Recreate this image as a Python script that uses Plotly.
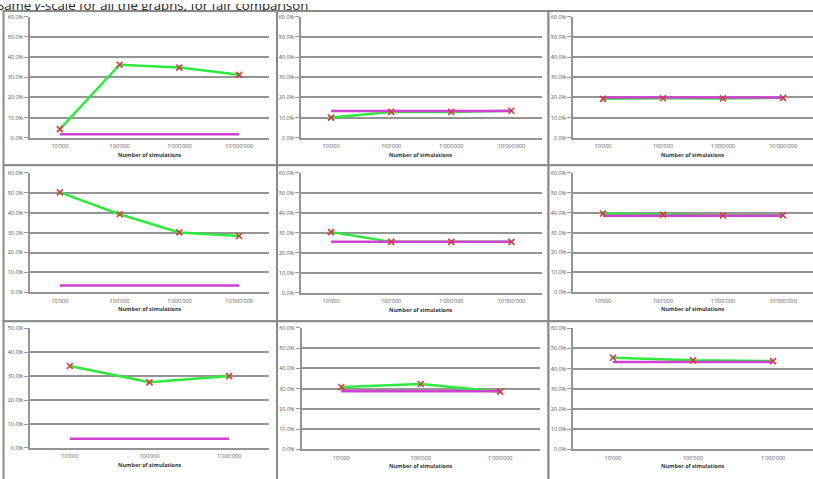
import plotly.graph_objects as go

W, H = 813, 479

title_text = "Same <i>y</i>-scale for all the graphs, for fair comparison"
x_title = "Number of simulations"

cats4 = ["10'000", "100'000", "1'000'000", "10'000'000"]
cats3 = ["10'000", "100'000", "1'000'000"]

# simulated estimate (green) per panel
p1_sim = [0.043, 0.362, 0.348, 0.312]
p2_sim = [0.100, 0.128, 0.128, 0.134]
p3_sim = [0.193, 0.196, 0.195, 0.198]
p4_sim = [0.502, 0.392, 0.301, 0.283]
p5_sim = [0.304, 0.255, 0.255, 0.255]
p6_sim = [0.396, 0.390, 0.386, 0.387]
p7_sim = [0.342, 0.274, 0.300]
p8_sim = [0.308, 0.323, 0.285]
p9_sim = [0.454, 0.441, 0.437]

# reference value (magenta) per panel
p_ref = [0.017, 0.133, 0.199, 0.035, 0.256, 0.384, 0.038, 0.287, 0.433]

y_max = [0.6, 0.6, 0.6, 0.6, 0.6, 0.6, 0.5, 0.6, 0.6]
y_ticks_60 = [0.0, 0.1, 0.2, 0.3, 0.4, 0.5, 0.6]
y_labels_60 = ["0.0%", "10.0%", "20.0%", "30.0%", "40.0%", "50.0%", "60.0%"]

sims = [p1_sim, p2_sim, p3_sim, p4_sim, p5_sim, p6_sim, p7_sim, p8_sim, p9_sim]
cats = [cats4] * 6 + [cats3] * 3

# plot-area pixel boxes (x0, x1, ytop, ybottom)
areas = [
    (30, 269, 13, 136), (301, 541.5, 13, 136), (573, 813, 13, 136),
    (30, 269, 171.7, 293.3), (301, 541.5, 171.7, 293.8), (573, 813, 171.7, 293.3),
    (30, 269, 329.7, 451.5), (301.5, 540, 329.3, 453), (573, 813, 329.7, 453),
]
# panel frame boxes (x0, x1, y0, y1) in pixels
frames_x = [(3.5, 277), (277, 548.5), (548.5, 817)]
frames_y = [(7, 164), (164, 322.7), (322.7, 484)]

GREEN = "#2eea3c"
MAGENTA = "#d23fd2"
MARK = "#cf3f3a"
GRID = "#959595"
TXT = "#555555"
FONT = "Open Sans"

fig = go.Figure()
layout = dict(width=W, height=H, margin=dict(l=0, r=0, t=0, b=0),
              paper_bgcolor="white", plot_bgcolor="rgba(0,0,0,0)",
              showlegend=False)
shapes = []
annotations = []

for fy in frames_y:
    for fx in frames_x:
        shapes.append(dict(type="rect", xref="paper", yref="paper", layer="below",
                           x0=fx[0] / W, x1=fx[1] / W, y0=1 - fy[1] / H, y1=1 - fy[0] / H,
                           line=dict(color="#8a8a8a", width=2), fillcolor="white"))

for i in range(9):
    n = i + 1
    xa = "x" if n == 1 else f"x{n}"
    ya = "y" if n == 1 else f"y{n}"
    x0, x1, yt, yb = areas[i]
    c = cats[i]
    ref_line = [p_ref[i]] * len(c)
    fig.add_trace(go.Scatter(x=c, y=sims[i], mode="lines", xaxis=xa, yaxis=ya,
                             line=dict(color=GREEN, width=2.5), hoverinfo="skip"))
    fig.add_trace(go.Scatter(x=c, y=ref_line, mode="lines", xaxis=xa, yaxis=ya,
                             line=dict(color=MAGENTA, width=2.5), hoverinfo="skip"))
    fig.add_trace(go.Scatter(x=c, y=sims[i], mode="markers", xaxis=xa, yaxis=ya,
                             marker=dict(symbol="x-thin", size=6, color=MARK,
                                         line=dict(color=MARK, width=1.6)),
                             hoverinfo="skip", cliponaxis=False))
    ym = y_max[i]
    tv = [t for t in y_ticks_60 if t <= ym + 1e-9]
    tt = y_labels_60[:len(tv)]
    xkey = "xaxis" if n == 1 else f"xaxis{n}"
    ykey = "yaxis" if n == 1 else f"yaxis{n}"
    layout[xkey] = dict(domain=[x0 / W, x1 / W], anchor=ya, type="category",
                        range=[-0.5, len(c) - 0.5], showgrid=False, zeroline=False,
                        showline=True, linecolor=GRID, linewidth=1.5,
                        ticks="", tickfont=dict(size=5.5, color=TXT, family=FONT),
                        ticklabelstandoff=2, fixedrange=True)
    layout[ykey] = dict(domain=[1 - yb / H, 1 - yt / H], anchor=xa, range=[0, ym],
                        tickvals=tv, ticktext=tt, showgrid=True, gridcolor=GRID,
                        gridwidth=1.5, zeroline=False, showline=True, linecolor=GRID,
                        linewidth=1.5, ticks="outside", ticklen=4, tickcolor=GRID,
                        tickwidth=1, tickfont=dict(size=5.5, color=TXT, family=FONT),
                        fixedrange=True)
    annotations.append(dict(text=f"<b>{x_title}</b>", xref=f"{xa} domain",
                            yref=f"{ya} domain", x=0.5, y=0, yanchor="middle",
                            xanchor="center", yshift=-17, showarrow=False,
                            font=dict(size=5.5, color="#333333", family=FONT)))

# title, clipped by the panels below it
fig.add_trace(go.Scatter(x=[-3], y=[3.8], mode="text", text=[title_text],
                         textposition="middle right", xaxis="x10", yaxis="y10",
                         textfont=dict(size=13.2, color="#222222", family=FONT),
                         cliponaxis=True, hoverinfo="skip"))
layout["xaxis10"] = dict(domain=[0, 1], range=[0, W], visible=False, fixedrange=True)
layout["yaxis10"] = dict(domain=[1 - 7 / H, 1], range=[0, 7], visible=False,
                         fixedrange=True)

layout["shapes"] = shapes
layout["annotations"] = annotations
fig.update_layout(**layout)
fig.write_html("out.html", config={"displayModeBar": False},
               post_script="document.body.style.margin='0';document.body.style.overflow='hidden';")
